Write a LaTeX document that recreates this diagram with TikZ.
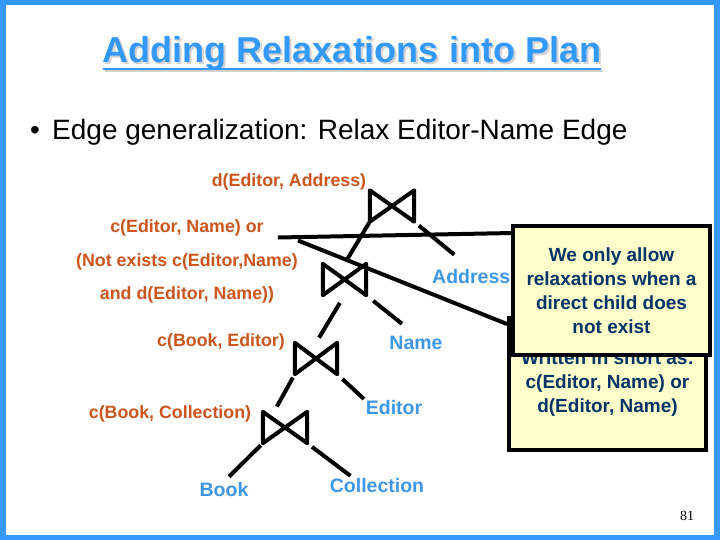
\documentclass[tikz,border=0pt]{standalone}
\usepackage{fontspec}
\setmainfont{Liberation Sans}
\newfontfamily\pagenumfont{Liberation Serif}
\usetikzlibrary{positioning,calc}

\definecolor{relorange}{RGB}{204,85,30}
\definecolor{relblue}{RGB}{62,150,232}
\definecolor{frameblue}{RGB}{51,153,255}
\definecolor{notenavy}{RGB}{0,51,102}
\definecolor{noteyellow}{RGB}{255,255,204}

\begin{document}
\begin{tikzpicture}[x=1pt, y=-1pt,
        headline/.style={font=\fontsize{36}{40}\selectfont\bfseries, inner sep=0pt, anchor=base},
        cond/.style={text=relorange, font=\fontsize{17.8}{33.5}\selectfont\bfseries, inner sep=1pt, align=center},
        rel/.style={text=relblue, font=\fontsize{19.5}{24}\selectfont\bfseries, inner sep=1pt},
        joinop/.style={minimum width=44pt, minimum height=31pt, inner sep=0pt},
        bowline/.style={draw, line width=4pt, line join=round},
        link/.style={draw, line width=4pt},
        note/.style={draw, line width=4pt, fill=noteyellow, text=notenavy, minimum width=197pt, align=center, font=\fontsize{19}{24}\selectfont\bfseries}
    ]
        \useasboundingbox (0,0) rectangle (720,540);
        \draw [frameblue, line width=6pt] (3,2.5) rectangle (716.5,537.5);

        % Heading
        \node (titleshadow) [headline, text=gray!35] at (354,65) {Adding Relaxations into Plan};
        \draw [gray!35, line width=2.5pt] ($(titleshadow.base west)+(0,6)$) -- ($(titleshadow.base east)+(0,6)$);
        \node (title) [headline, text=frameblue] at (352,63) {Adding Relaxations into Plan};
        \draw [frameblue, line width=2.5pt] ($(title.base west)+(0,6)$) -- ($(title.base east)+(0,6)$);

        \node (bullet) [font=\fontsize{28}{32}\selectfont, inner sep=0pt, anchor=base] at (35,140) {\textbullet};
        \node (point) [font=\fontsize{28}{32}\selectfont, inner sep=0pt, anchor=base west] at (52,140) {Edge generalization: Relax Editor-Name Edge};

        % Join conditions
        \node (addrcond) [cond] at (289,182) {d(Editor, Address)};
        \node (namecond) [cond] at (187,261.5) {c(Editor, Name) or\\(Not exists c(Editor,Name)\\and d(Editor, Name))};
        \node (editorcond) [cond] at (221,342) {c(Book, Editor)};
        \node (collcond) [cond] at (170,414) {c(Book, Collection)};

        % Joins
        \node (j1) [joinop] at (392,206) {};
        \node (j2) [joinop, minimum width=43pt] at (344.5,279.5) {};
        \node (j3) [joinop, minimum width=42pt] at (316,358.5) {};
        \node (j4) [joinop] at (285,427.5) {};
        \foreach \j in {j1,j2,j3,j4}
            \draw [bowline] (\j.north west) -- (\j.south west) -- (\j.north east) -- (\j.south east) -- cycle;

        % Relations
        \node (addr) [rel, anchor=west] at (431,277) {Address};
        \node (name) [rel] at (416,343) {Name};
        \node (editor) [rel] at (394,408) {Editor};
        \node (book) [rel] at (224,490) {Book};
        \node (coll) [rel] at (377,486) {Collection};

        % Connections
        \draw [link, shorten <=1pt, shorten >=6pt] (j1.south west) -- (j2.north);
        \draw [link, shorten <=6pt, shorten >=22pt] (j1.south east) -- (addr.north);
        \draw [link, shorten <=9pt, shorten >=6pt] (j2.south) -- (j3.north);
        \draw [link, shorten <=9pt, shorten >=18pt] (j2.south east) -- (name.north);
        \draw [link, shorten <=4pt, shorten >=6pt] (j3.south west) -- ($(j4.north)!0.5!(j4.north west)$);
        \draw [link, shorten <=7pt, shorten >=1pt] (j3.south east) -- (editor.north west);
        \draw [link, shorten <=3pt, shorten >=7pt] (j4.south west) -- (book.north);
        \draw [link, shorten <=6pt, shorten >=3pt] (j4.south east) -- ($(coll.north)!0.5!(coll.north west)$);

        % Notes
        \node (shortnote) [note, minimum height=132pt] at (607.5,384) {Written in short as:\\c(Editor, Name) or\\d(Editor, Name)};
        \coordinate (whytip) at (513,233);
        \draw [link] ($(namecond.north east)+(-1,22)$) -- ($(shortnote.north west)+(0,8)$);
        \draw [link] ($(namecond.north east)+(-21,19)$) -- (whytip);
        \node (whynote) [note, minimum height=129pt] at (611.5,290.5) {We only allow\\relaxations when a\\direct child does\\not exist};

        \node (pagenum) [font=\pagenumfont\fontsize{14}{16}\selectfont] at (687,516) {81};
    \end{tikzpicture}
\end{document}
